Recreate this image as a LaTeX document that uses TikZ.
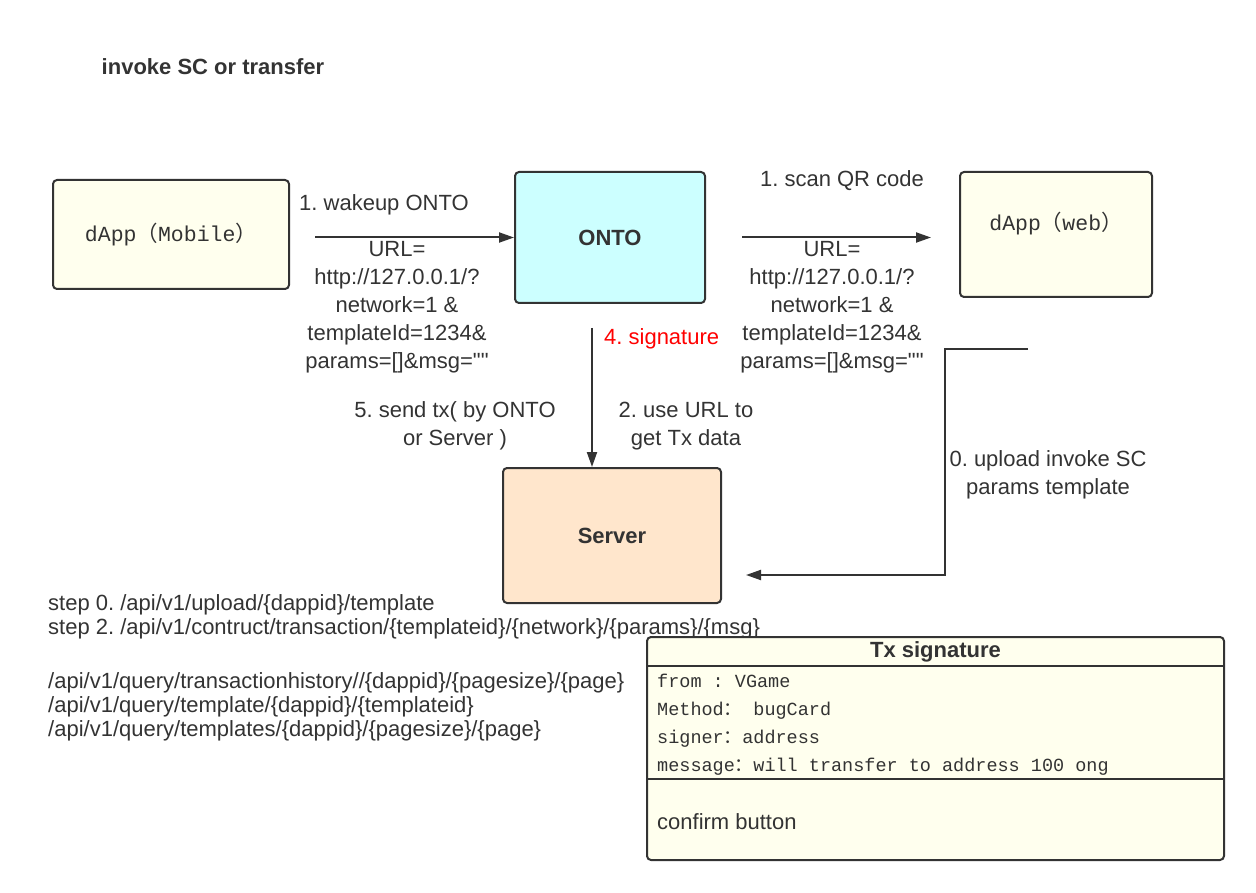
\documentclass[tikz,border=0pt]{standalone}
\usepackage{fontspec}
\setmainfont{Liberation Sans}[Ligatures=TeXOff]
\setmonofont{Liberation Mono}
\newfontfamily\cjk{Noto Sans CJK SC}
\usepackage{tikz}
\usetikzlibrary{arrows.meta}
\definecolor{ink}{HTML}{333333}
\definecolor{appfill}{HTML}{FFFFEE}
\definecolor{ontofill}{HTML}{CCFFFF}
\definecolor{serverfill}{HTML}{FFE6CC}
\frenchspacing

\begin{document}
\begin{tikzpicture}[x=1pt,y=-1pt,font=\fontsize{22}{28}\selectfont,text=ink]
        \tikzset{box/.style = {shape=rectangle,draw=ink,line width=2pt,rounded corners=4pt}}
        \tikzset{app/.style = {box,fill=appfill}}
        \tikzset{ontobox/.style = {box,fill=ontofill}}
        \tikzset{serverbox/.style = {box,fill=serverfill}}
        \tikzset{lbl/.style = {align=center,inner sep=0pt}}
        \tikzset{mono/.style = {font=\fontsize{18.5}{28}\ttfamily}}
        \tikzset{edged/.style = {->,>={Triangle[length=15pt,width=10pt]},line width=2pt,draw=ink}}
        \useasboundingbox (0,0) rectangle (1256,893);
        \node[font=\fontsize{22}{24}\bfseries,inner sep=0pt] (title) at (213,67) {invoke SC or transfer};

        % boxes
        \node[app,minimum width=236pt,minimum height=109pt,font=\fontsize{21.5}{24}\ttfamily] (mobile) at (171,234.5) {dApp{\cjk （}Mobile{\cjk ）}};
        \node[ontobox,minimum width=190pt,minimum height=131pt,font=\fontsize{22}{24}\bfseries] (onto) at (610,237.5) {ONTO};
        \node[app,minimum width=192pt,minimum height=125pt,
              label={[yshift=11pt,font=\fontsize{21.5}{24}\ttfamily]center:dApp{\cjk （}web{\cjk ）}}] (web) at (1056,234.5) {};
        \node[serverbox,minimum width=218pt,minimum height=135pt,font=\fontsize{22}{24}\bfseries] (server) at (612,535.5) {Server};
        \coordinate (tplstart) at (1028,349);

        % edges
        \draw[edged,shorten <=25pt] (onto.west -| mobile.east) to (onto.west);
        \draw[edged,shorten <=36pt,shorten >=28pt] (onto.east) to (onto.east -| web.west);
        \draw[edged,shorten <=24pt] ([xshift=-18pt]onto.south) to ([xshift=-18pt]onto.south |- server.north);
        \draw[edged,shorten >=24pt] (tplstart) -- ++(-83,0) |- ([yshift=-39.5pt]server.east);

        % edge labels
        \node[lbl] (wake) at (384,205) {1. wakeup ONTO};
        \node[lbl] (url1) at (397,307) {URL=\\http://127.0.0.1/?\\network=1 \&\\templateId=1234\&\\params=[]\&msg=""};
        \node[lbl] (scan) at (842,181) {1. scan QR code};
        \node[lbl] (url2) at (832,307) {URL=\\http://127.0.0.1/?\\network=1 \&\\templateId=1234\&\\params=[]\&msg=""};
        \node[lbl,anchor=west,text=red] (sig) at (604,339) {4. signature};
        \node[lbl] (use) at (686,426) {2. use URL to\\get Tx data};
        \node[lbl] (send) at (455,426) {5. send tx( by ONTO\\or Server )};
        \node[lbl] (upload) at (1048,475) {0. upload invoke SC\\params template};

        % api notes
        \node[lbl,align=left,anchor=west,font=\fontsize{22}{24}\selectfont] (steps) at (48,617) {step 0. /api/v1/upload/\{dappid\}/template\\step 2. /api/v1/contruct/transaction/\{templateid\}/\{network\}/\{params\}/\{msg\}};
        \node[lbl,align=left,anchor=west,font=\fontsize{22}{24}\selectfont] (query) at (48,707) {/api/v1/query/transactionhistory//\{dappid\}/\{pagesize\}/\{page\}\\/api/v1/query/template/\{dappid\}/\{templateid\}\\/api/v1/query/templates/\{dappid\}/\{pagesize\}/\{page\}};

        % tx signature panel
        \node[app,minimum width=577pt,minimum height=223pt] (txsig) at (935.5,748.5) {};
        \draw[line width=2pt,draw=ink] (txsig.north west) ++(0,30) -- ++(577,0);
        \draw[line width=2pt,draw=ink] (txsig.north west) ++(0,143) -- ++(577,0);
        \node[lbl,font=\fontsize{22}{24}\bfseries] (txtitle) at (935.5,652) {Tx signature};
        \node[lbl,mono,align=left,anchor=north west] (fields) at (657,674) {from : VGame\\Method{\cjk ：} bugCard\\signer{\cjk ：}address\\message{\cjk ：}will transfer to address 100 ong};
        \node[lbl,anchor=west] (confirm) at (657,822) {confirm button};
\end{tikzpicture}
\end{document}
